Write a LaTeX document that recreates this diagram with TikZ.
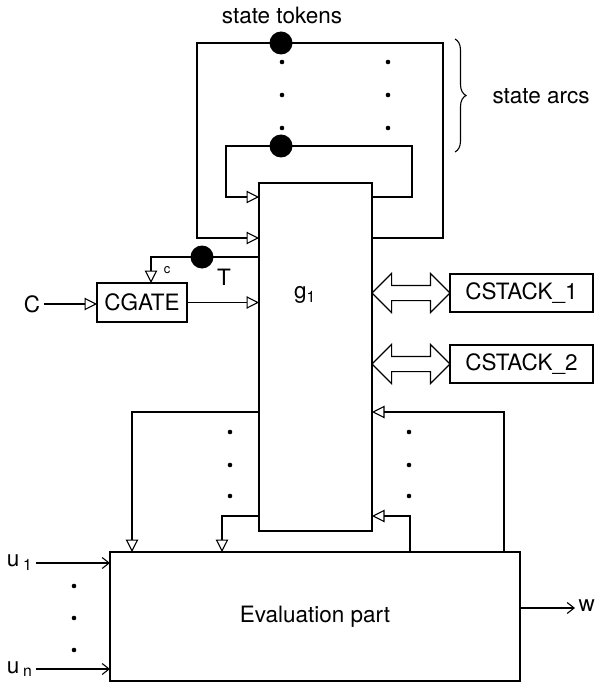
\documentclass[tikz,border=0pt]{standalone}
\usepackage{fontspec}
\setmainfont{TeX Gyre Heros}
\usetikzlibrary{arrows.meta,calc,shapes.arrows,decorations.pathreplacing}
\begin{document}
\begin{tikzpicture}[x=1pt,y=-1pt,
  every node/.style={font=\fontsize{22.5}{26}\selectfont},
  blk/.style={draw,line width=2.2pt,inner sep=0pt,outer sep=0pt},
  sig/.style={line width=1.1pt,-{Triangle[open,length=12.5pt,width=12.5pt]}},
  inarr/.style={line width=1.1pt,-{Straight Barb[length=7pt,width=11pt]}},
  token/.style={circle,fill=black,minimum size=23pt,inner sep=0pt},
  dotc/.style={circle,fill=black,minimum size=4.6pt,inner sep=0pt},
  dblarr/.style={double arrow,draw,fill=white,line width=1.2pt,inner sep=7pt,outer sep=0pt,
    minimum height=78pt,double arrow head extend=12pt}]
  \useasboundingbox (0,0) rectangle (595,687);
  % blocks
  \node[blk,minimum width=113pt,minimum height=348pt] (g1) at (315.5,357) {};
  \node (g1lbl) at (305,295) {g\textsubscript{1}};
  \node[blk,minimum width=410pt,minimum height=129pt] (eval) at (315,616.5) {Evaluation part};
  \node[blk,minimum width=90pt,minimum height=39pt] (cgate) at (142,302.5) {CGATE};
  \node[blk,minimum width=143pt,minimum height=38pt] (cs1) at (521.5,293) {CSTACK\_1};
  \node[blk,minimum width=143pt,minimum height=38pt] (cs2) at (521.5,364) {CSTACK\_2};
  % state arcs
  \coordinate (o1) at (443,43);
  \coordinate (o2) at (197,43);
  \coordinate (yo) at (0,238);
  \coordinate (i1) at (412,146);
  \coordinate (i2) at (226,146);
  \coordinate (yi) at (0,197);
  \draw[sig] (g1.east |- yo) -| (o1) -- (o2) |- (g1.west |- yo);
  \draw[sig] (g1.east |- yi) -| (i1) -- (i2) |- (g1.west |- yi);
  \node[token] (tok1) at (281,43) {};
  \node[token] (tok2) at (281,146) {};
  \node (tokl) at (282,15) {state tokens};
  \foreach \x in {282,388}
    \foreach \y in {62,95,128}
      \node[dotc] at (\x,\y) {};
  \draw[line width=1.1pt,decorate,decoration={brace,amplitude=11pt}] (455,39) -- (455,152);
  \node (arcs) at (541,96) {state arcs};
  % control token and gate
  \coordinate (tc) at (151,257);
  \draw[sig] (g1.west |- tc) -- (tc) -- (tc |- cgate.north);
  \node[token] (tokT) at (202,257) {};
  \node (tl) at (224,277) {T};
  \node[font=\fontsize{13}{14}\selectfont] (cl) at (167,270) {c};
  \node (cin) at (32,304) {C};
  \draw[sig] (cin) -- (cgate.west |- cin);
  \draw[sig] (cgate.east) -- (g1.west |- cgate.east);
  % stacks
  \node[dblarr] (da1) at ($(g1.east |- cs1)!.5!(cs1.west)$) {};
  \node[dblarr] (da2) at ($(g1.east |- cs2)!.5!(cs2.west)$) {};
  % g1 <-> evaluation part
  \coordinate (bl1) at (132,412);
  \coordinate (bl2) at (222,516);
  \coordinate (br1) at (504,412);
  \coordinate (br2) at (410,516);
  \draw[sig] (g1.west |- bl1) -- (bl1) -- (bl1 |- eval.north);
  \draw[sig] (g1.west |- bl2) -- (bl2) -- (bl2 |- eval.north);
  \draw[sig] (br1 |- eval.north) -- (br1) -- (g1.east |- br1);
  \draw[sig] (br2 |- eval.north) -- (br2) -- (g1.east |- br2);
  \foreach \x in {230,409}
    \foreach \y in {432,465,496}
      \node[dotc] at (\x,\y) {};
  % inputs and output
  \node[anchor=east] (u1) at (36,563) {u\,\textsubscript{1}};
  \node[anchor=east] (un) at (36,669) {u\,\textsubscript{n}};
  \draw[inarr] (u1.east |- 0,563) -- (eval.west |- 0,563);
  \draw[inarr] (un.east |- 0,669) -- (eval.west |- 0,669);
  \foreach \y in {586,618,650}
    \node[dotc] at (74,\y) {};
  \node[anchor=west] (w) at (575,606) {w};
  \draw[inarr] (eval.east |- 0,608) -- (w.west |- 0,608);
\end{tikzpicture}
\end{document}
